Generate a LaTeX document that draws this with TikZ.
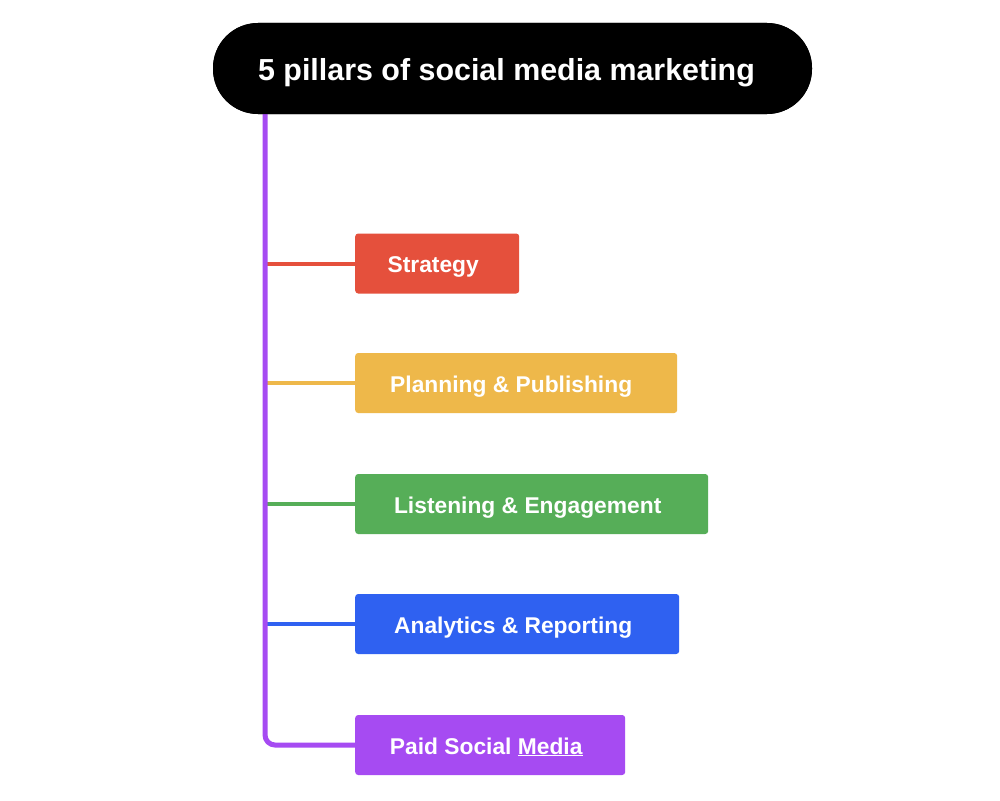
\documentclass[tikz,border=0pt]{standalone}
\usepackage{fontspec}
\setmainfont{Liberation Sans}
\usetikzlibrary{calc}
\definecolor{cred}{HTML}{E5503C}
\definecolor{cyel}{HTML}{EEB84A}
\definecolor{cgrn}{HTML}{56AE58}
\definecolor{cblu}{HTML}{2F61F1}
\definecolor{cpur}{HTML}{A64BF2}
\tikzset{
  pillbox/.style={fill=black, rounded corners=45pt, minimum width=599pt, minimum height=91pt, inner sep=0pt,
    text=white, font=\fontsize{30.4}{34}\selectfont\bfseries, text height=23pt, text depth=0pt},
  itembox/.style={rounded corners=3pt, minimum height=60pt, inner sep=0pt, anchor=west,
    text=white, font=\fontsize{22.8}{26}\selectfont\bfseries, text height=20pt, text depth=2pt},
  branch/.style={line width=4pt, line cap=round},
}
\begin{document}
\begin{tikzpicture}[x=1pt,y=-1pt]
\useasboundingbox[fill=white] (0,0) rectangle (1000,800);
\node[pillbox] (title) at (512.5,68.5) {5 pillars of social media marketing\hspace*{12pt}};
\coordinate (spine) at (265,110);
\node[itembox, fill=cred, minimum width=164pt] (strat) at (355,263.5) {Strategy\hspace*{8pt}};
\node[itembox, fill=cyel, minimum width=322pt] (plan) at (355,383) {Planning \& Publishing\hspace*{10pt}};
\node[itembox, fill=cgrn, minimum width=353pt] (listen) at (355,504) {Listening \& Engagement\hspace*{8pt}};
\node[itembox, fill=cblu, minimum width=324pt] (anal) at (355,624) {Analytics \& Reporting\hspace*{8pt}};
\node[itembox, fill=cpur, minimum width=270pt] (paid) at (355,745) {Paid Social \underline{Media}\hspace*{8pt}};
\draw[branch, cred] (spine |- strat.west) -- (strat.west);
\draw[branch, cyel] (spine |- plan.west) -- (plan.west);
\draw[branch, cgrn] (spine |- listen.west) -- (listen.west);
\draw[branch, cblu] (spine |- anal.west) -- (anal.west);
\draw[cpur, line width=5pt, rounded corners=10pt] (spine) |- (paid.west);
\node[pillbox] at (title) {5 pillars of social media marketing\hspace*{12pt}};
\end{tikzpicture}
\end{document}
